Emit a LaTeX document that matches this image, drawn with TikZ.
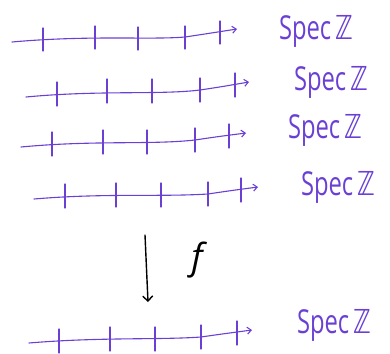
\documentclass[tikz,border=0pt]{standalone}
\usepackage{fontspec}
\setmainfont{Open Sans}
\newfontfamily\symfont{DejaVu Sans}
\usetikzlibrary{arrows.meta}
\definecolor{ink}{HTML}{6A40D4}
\tikzset{
  axis/.style={draw=ink, line width=1.1pt, line cap=round, -{Straight Barb[length=4pt,width=7pt,line width=1.1pt]}},
  tick/.style={draw=ink, line width=1.1pt, line cap=round},
  speclabel/.style={text=ink, inner sep=0pt, font=\fontsize{33}{33}\selectfont, xscale=0.72},
  mapline/.style={draw=black, line width=1.4pt, line cap=round, -{Straight Barb[length=5pt,width=10pt,line width=1.4pt]}},
}
\newcommand{\specz}{Spec\,{\symfont ℤ}}
\begin{document}
\begin{tikzpicture}[x=1pt,y=-1pt]
\useasboundingbox (0,0) rectangle (390,353);
% row 1
\coordinate (a1) at (12,42); \coordinate (b1) at (237,29);
\draw[axis] (a1) .. controls (90,35) and (150,40) .. (185,37) .. controls (205,34) .. (b1);
\foreach \x/\y in {43/39,95/37,138/38,185/37,220/32} \draw[tick] (\x,\y-11) -- (\x,\y+12);
\node[speclabel] (s1) at (316,31) {\specz};
% row 2
\coordinate (a2) at (26,97); \coordinate (b2) at (249,82);
\draw[axis] (a2) .. controls (100,90) and (160,95) .. (200,90) .. controls (220,87) .. (b2);
\foreach \x/\y in {57/94,107/91,152/91,200/90,235/85} \draw[tick] (\x,\y-12) -- (\x,\y+12);
\node[speclabel] (s2) at (331,82) {\specz};
% row 3
\coordinate (a3) at (21,147); \coordinate (b3) at (246,133);
\draw[axis] (a3) .. controls (95,140) and (150,145) .. (195,140) .. controls (215,137) .. (b3);
\foreach \x/\y in {52/144,103/142,147/142,195/140,229/136} \draw[tick] (\x,\y-12) -- (\x,\y+12);
\node[speclabel] (s3) at (325,130) {\specz};
% row 4
\coordinate (a4) at (34,199); \coordinate (b4) at (258,187);
\draw[axis] (a4) .. controls (105,193) and (160,197) .. (208,194) .. controls (228,191) .. (b4);
\foreach \x/\y in {65/196,116/195,161/195,208/194,241/190} \draw[tick] (\x,\y-12) -- (\x,\y+12);
\node[speclabel] (s4) at (338,187) {\specz};
% map arrow
\coordinate (m1) at (145,235); \coordinate (m2) at (148,302);
\draw[mapline] (m1) -- (m2);
\node[font=\fontsize{36}{36}\selectfont\itshape, inner sep=0pt] (f) at (197,260) {f};
% row 5
\coordinate (a5) at (29,343); \coordinate (b5) at (252,330);
\draw[axis] (a5) .. controls (100,337) and (160,340) .. (201,337) .. controls (222,334) .. (b5);
\foreach \x/\y in {59/341,110/339,155/339,201/337,237/333} \draw[tick] (\x,\y-12) -- (\x,\y+12);
\node[speclabel] (s5) at (334,325) {\specz};
\end{tikzpicture}
\end{document}
